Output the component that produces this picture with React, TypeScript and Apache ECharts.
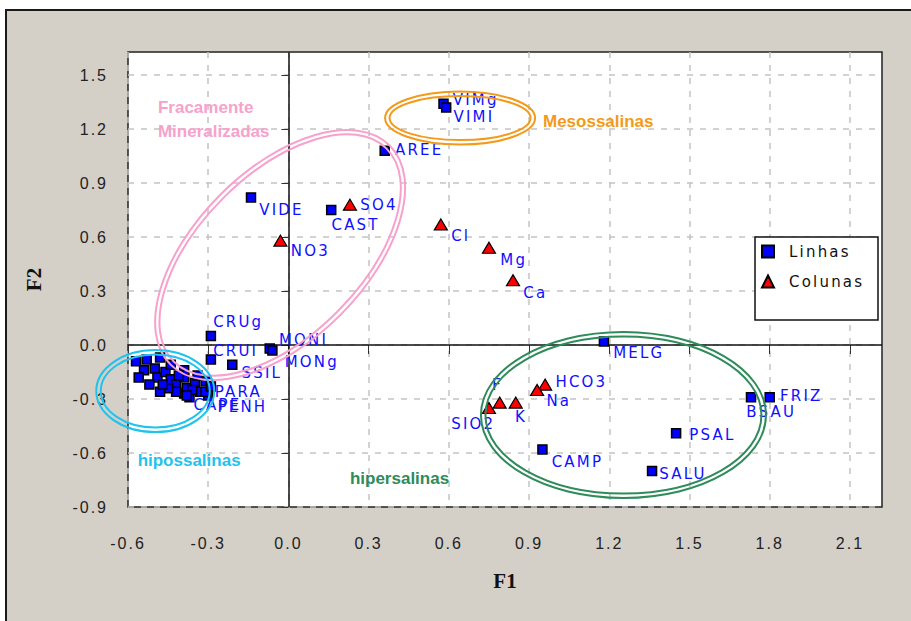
import React, { useEffect, useRef } from 'react';
import * as echarts from 'echarts';

// Axis ticks (F1 horizontal, F2 vertical)
const f1Ticks = [-0.6, -0.3, 0, 0.3, 0.6, 0.9, 1.2, 1.5, 1.8, 2.1];
const f2Ticks = [-0.9, -0.6, -0.3, 0, 0.3, 0.6, 0.9, 1.2, 1.5];

// Row points (sampling sites); empty names are unlabelled sites of the dense cluster
const linhasNames = [
  'VIMg', 'VIMI', 'AREE', 'VIDE', 'CAST', 'MELG', 'FRIZ', 'BSAU', 'PSAL', 'SALU',
  'CAMP', 'CRUg', 'MONI', 'MONg', 'CRUI', 'SSIL', 'CAPE', 'PARA', 'PENH',
  '', '', '', '', '', '', '', '', '', '', '', '', '', '', '', '', '', '', '', '', '',
  '', '', '', '', '', '', '',
];
const linhasF1 = [
  0.58, 0.59, 0.36, -0.14, 0.16, 1.18, 1.80, 1.73, 1.45, 1.36,
  0.95, -0.29, -0.07, -0.06, -0.29, -0.21, -0.39, -0.31, -0.30,
  -0.57, -0.54, -0.53, -0.50, -0.48, -0.49, -0.46, -0.44, -0.56, -0.42,
  -0.39, -0.38, -0.42, -0.35, -0.33, -0.37, -0.45, -0.39, -0.48, -0.52, -0.44,
  -0.41, -0.36, -0.31, -0.29, -0.34, -0.38, -0.47,
];
const linhasF2 = [
  1.34, 1.32, 1.08, 0.82, 0.75, 0.02, -0.29, -0.29, -0.49, -0.70,
  -0.58, 0.05, -0.02, -0.03, -0.08, -0.11, -0.27, -0.20, -0.28,
  -0.09, -0.14, -0.08, -0.13, -0.07, -0.18, -0.15, -0.19, -0.18, -0.22,
  -0.18, -0.24, -0.26, -0.21, -0.26, -0.29, -0.24, -0.14, -0.26, -0.22, -0.11,
  -0.17, -0.25, -0.26, -0.23, -0.17, -0.28, -0.22,
];

// Column points (chemical parameters)
const colunasNames = ['SO4', 'NO3', 'Cl', 'Mg', 'Ca', 'HCO3', 'Na', 'K', 'F', 'SIO2'];
const colunasF1 = [0.23, -0.03, 0.57, 0.75, 0.84, 0.96, 0.93, 0.85, 0.79, 0.75];
const colunasF2 = [0.78, 0.58, 0.67, 0.54, 0.36, -0.22, -0.25, -0.32, -0.32, -0.35];

// Label placement relative to the marker centre: [dx, dy, align]
const labelShift: Record<string, [number, number, string?]> = {
  VIMg: [10, -3], VIMI: [8, 10], AREE: [11, 0], VIDE: [9, 13], CAST: [1, 16],
  MELG: [10, 12], FRIZ: [11, 0], BSAU: [-4, 16], PSAL: [14, 3], SALU: [8, 4],
  CAMP: [10, 13], CRUg: [3, -13], MONI: [10, -8], MONg: [13, 12], CRUI: [3, -8],
  SSIL: [10, 9], CAPE: [10, 12], PARA: [10, 12], PENH: [10, 12],
  SO4: [11, 1], NO3: [11, 11], Cl: [11, 12], Mg: [12, 13], Ca: [11, 13],
  HCO3: [11, -2], Na: [10, 12], K: [0, 15], F: [-7, -17], SIO2: [7, 17, 'right'],
};

// Salinity groups drawn as double ellipses around the points
const zones = [
  { name: 'Fracamente Mineralizadas', f1: -0.031, f2: 0.5, rx: 155, ry: 85, angle: 45, color: '#f7a1cc' },
  { name: 'Mesossalinas', f1: 0.642, f2: 1.261, rx: 75, ry: 26.5, angle: 0, color: '#f39a1a' },
  { name: 'hipossalinas', f1: -0.498, f2: -0.256, rx: 59, ry: 41, angle: 0, color: '#1fc3ee' },
  { name: 'hipersalinas', f1: 1.253, f2: -0.389, rx: 142.5, ry: 83, angle: 0, color: '#2e8b5a' },
];

// Group captions (left edge / vertical centre in F1/F2 units)
const captions = [
  { text: 'Fracamente', f1: -0.488, f2: 1.322, color: '#f7a1cc' },
  { text: 'Mineralizadas', f1: -0.488, f2: 1.189, color: '#f7a1cc' },
  { text: 'Mesossalinas', f1: 0.952, f2: 1.244, color: '#f39a1a' },
  { text: 'hipossalinas', f1: -0.564, f2: -0.639, color: '#1fc3ee' },
  { text: 'hipersalinas', f1: 0.23, f2: -0.739, color: '#2e8b5a' },
];

const LABEL_FONT = 'DejaVu Sans';
const AXIS_FONT = 'Liberation Sans';

const css = `
#pca-chart text[style*="DejaVu Sans"] { letter-spacing: 2.2px; }
#pca-chart text[style*="Liberation Sans"]:not([style*="bold"]) { letter-spacing: 2px; }
`;

function makeItems(names: string[], xs: number[], ys: number[], half: [number, number]) {
  return names.map((name, i) => {
    const s = labelShift[name] || [10, 12];
    const align = s[2] || 'left';
    return {
      name,
      value: [xs[i], ys[i]],
      label: {
        position: [half[0] + s[0], half[1] + s[1]],
        align,
        verticalAlign: 'middle',
      },
    };
  });
}

export default function App() {
  const ref = useRef<HTMLDivElement>(null);

  useEffect(() => {
    if (!ref.current) return;
    const chart = echarts.init(ref.current, null, { renderer: 'svg' });

    const pointLabel = {
      show: true,
      formatter: (p: any) => p.name,
      color: '#1010ff',
      fontFamily: LABEL_FONT,
      fontSize: 15,
    };

    const option: any = {
      animation: false,
      backgroundColor: 'transparent',
      grid: {
        left: 128,
        right: 29,
        top: 52,
        bottom: 114,
        show: true,
        backgroundColor: '#ffffff',
        borderColor: '#222222',
        borderWidth: 1.5,
      },
      xAxis: {
        type: 'value',
        min: -0.6,
        max: 2.22,
        interval: 0.3,
        name: 'F1',
        nameLocation: 'middle',
        nameGap: 63,
        nameTextStyle: { fontFamily: 'Liberation Serif', fontWeight: 'bold', fontSize: 21, color: '#111' },
        axisLine: { show: false },
        axisTick: { show: true, length: 9, customValues: f1Ticks, lineStyle: { color: '#333', width: 1 } },
        axisLabel: {
          customValues: f1Ticks,
          margin: 28,
          formatter: (v: number) => v.toFixed(1),
          fontFamily: AXIS_FONT,
          fontSize: 16,
          color: '#222',
        },
        splitLine: { show: true, lineStyle: { color: '#c4c4c4', width: 1.5, type: [6, 7] } },
      },
      yAxis: {
        type: 'value',
        min: -0.9,
        max: 1.628,
        interval: 0.3,
        name: 'F2',
        nameLocation: 'middle',
        nameGap: 84,
        nameRotate: 90,
        nameTextStyle: { fontFamily: 'Liberation Serif', fontWeight: 'bold', fontSize: 21, color: '#111' },
        axisLine: { show: false },
        axisTick: { show: true, length: 7, customValues: f2Ticks, lineStyle: { color: '#333', width: 1 } },
        axisLabel: {
          customValues: f2Ticks,
          margin: 20,
          formatter: (v: number) => v.toFixed(1),
          fontFamily: AXIS_FONT,
          fontSize: 16,
          color: '#222',
        },
        splitLine: { show: true, lineStyle: { color: '#c4c4c4', width: 1.5, type: [6, 7] } },
      },
      legend: {
        orient: 'vertical',
        left: 761,
        top: 244,
        padding: 0,
        itemGap: 15,
        itemWidth: 12,
        itemHeight: 12,
        z: 6,
        textStyle: { fontFamily: LABEL_FONT, fontSize: 15, color: '#111', padding: [0, 0, 0, 10] },
        data: ['Linhas', 'Colunas'],
      },
      series: [
        {
          name: 'origem',
          type: 'scatter',
          data: [],
          z: 1,
          silent: true,
          markLine: {
            silent: true,
            z: 1,
            symbol: 'none',
            label: { show: false },
            lineStyle: { color: '#111', width: 1.5, type: 'solid' },
            data: [{ xAxis: 0 }, { yAxis: 0 }],
          },
        },
        {
          name: 'Linhas',
          type: 'scatter',
          symbol: 'rect',
          symbolSize: 9,
          z: 3,
          itemStyle: { color: '#0000ff', borderColor: '#000', borderWidth: 1.5, opacity: 1 },
          label: pointLabel,
          data: makeItems(linhasNames, linhasF1, linhasF2, [4.5, 4.5]),
        },
        {
          name: 'Colunas',
          type: 'scatter',
          symbol: 'triangle',
          symbolSize: [13, 11],
          z: 4,
          itemStyle: { color: '#ff0000', borderColor: '#000', borderWidth: 1.2, opacity: 1 },
          label: pointLabel,
          data: makeItems(colunasNames, colunasF1, colunasF2, [6.5, 5.5]),
        },
      ],
    };

    chart.setOption(option);

    const toPx = (x: number, y: number) => chart.convertToPixel({ gridIndex: 0 }, [x, y]) as number[];
    const graphic: any[] = [
      {
        type: 'rect',
        shape: { x: 755, y: 237, width: 123, height: 83 },
        style: { fill: '#ffffff', stroke: '#111', lineWidth: 1.5 },
        z: 5,
        silent: true,
      },
    ];
    zones.forEach((zone) => {
      const [cx, cy] = toPx(zone.f1, zone.f2);
      [0, 4.5].forEach((shrink) => {
        graphic.push({
          type: 'ellipse',
          x: cx,
          y: cy,
          rotation: (zone.angle * Math.PI) / 180,
          shape: { cx: 0, cy: 0, rx: zone.rx - shrink, ry: zone.ry - shrink },
          style: { fill: 'none', stroke: zone.color, lineWidth: 2 },
          z: 10,
          silent: true,
        });
      });
    });
    captions.forEach((c) => {
      const [x, y] = toPx(c.f1, c.f2);
      graphic.push({
        type: 'text',
        x,
        y,
        z: 11,
        silent: true,
        style: {
          text: c.text,
          fill: c.color,
          fontFamily: AXIS_FONT,
          fontWeight: 'bold',
          fontSize: 17,
          textAlign: 'left',
          textVerticalAlign: 'middle',
        },
      });
    });
    chart.setOption({ graphic });

    return () => chart.dispose();
  }, []);

  return (
    <div style={{ position: 'fixed', left: 0, top: 0, width: 911, height: 621, background: '#ffffff', overflow: 'hidden' }}>
      <style>{css}</style>
      <div
        style={{
          position: 'absolute',
          left: 5,
          top: 9,
          width: 930,
          height: 640,
          background: '#d4d0c8',
          borderLeft: '2px solid #1a1a1a',
          borderTop: '2px solid #1a1a1a',
        }}
      />
      <div id="pca-chart" ref={ref} style={{ position: 'absolute', left: 0, top: 0, width: 911, height: 621 }} />
    </div>
  );
}
